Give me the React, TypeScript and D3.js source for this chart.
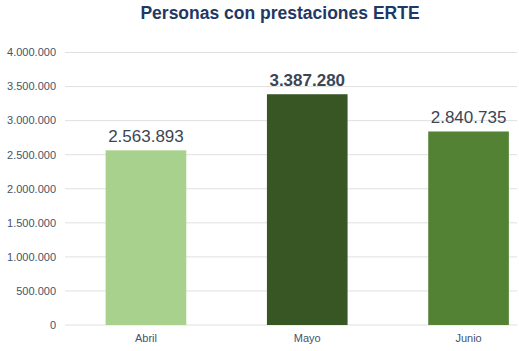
import { useMemo } from 'react';
import { scaleBand, scaleLinear } from 'd3';

const months = ['Abril', 'Mayo', 'Junio'];
const personas = [2563893, 3387280, 2840735];
const barColors = ['#a9d18e', '#375623', '#548235'];
const yTicks = [0, 500000, 1000000, 1500000, 2000000, 2500000, 3000000, 3500000, 4000000];

const fmt = (v: number) => v.toString().replace(/\B(?=(\d{3})+(?!\d))/g, '.');

export default function App() {
  const width = 519;
  const height = 351;
  const margin = { top: 52.5, right: 2, bottom: 26, left: 65 };
  const innerBottom = height - margin.bottom;

  const x = useMemo(
    () => scaleBand<string>().domain(months).range([65.3, 549.2]).paddingInner(0.5).paddingOuter(0.25),
    []
  );
  const y = useMemo(() => scaleLinear().domain([0, 4000000]).range([innerBottom, margin.top]), [innerBottom]);

  const font = 'Liberation Sans, Arial, sans-serif';

  return (
    <svg width={width} height={height} style={{ position: 'absolute', left: 0, top: 0, background: '#fff' }}>
      <text x={280} y={19} textAnchor="middle" fontFamily={font} fontWeight="bold" fontSize={17.5} fill="#1f3864">
        Personas con prestaciones ERTE
      </text>

      {/* grid */}
      {yTicks.map((t) => (
        <g key={t}>
          <line x1={margin.left} x2={517} y1={y(t)} y2={y(t)} stroke="#e0e0e0" strokeWidth={1} />
          <text x={56} y={y(t)} dy="0.35em" textAnchor="end" fontFamily={font} fontSize={11} fill="#44546a">
            {fmt(t)}
          </text>
        </g>
      ))}

      {/* bars */}
      {months.map((m, i) => (
        <g key={m}>
          <rect x={x(m)} y={y(personas[i])} width={x.bandwidth()} height={innerBottom - y(personas[i])} fill={barColors[i]} />
          <text
            x={(x(m) || 0) + x.bandwidth() / 2}
            y={y(personas[i]) - 8}
            textAnchor="middle"
            fontFamily={font}
            fontSize={17}
            fontWeight={i === 1 ? 'bold' : 'normal'}
            fill="#3a4656"
          >
            {fmt(personas[i])}
          </text>
          <text
            x={(x(m) || 0) + x.bandwidth() / 2}
            y={342}
            textAnchor="middle"
            fontFamily={font}
            fontSize={11}
            fill="#44546a"
          >
            {m}
          </text>
        </g>
      ))}
    </svg>
  );
}
